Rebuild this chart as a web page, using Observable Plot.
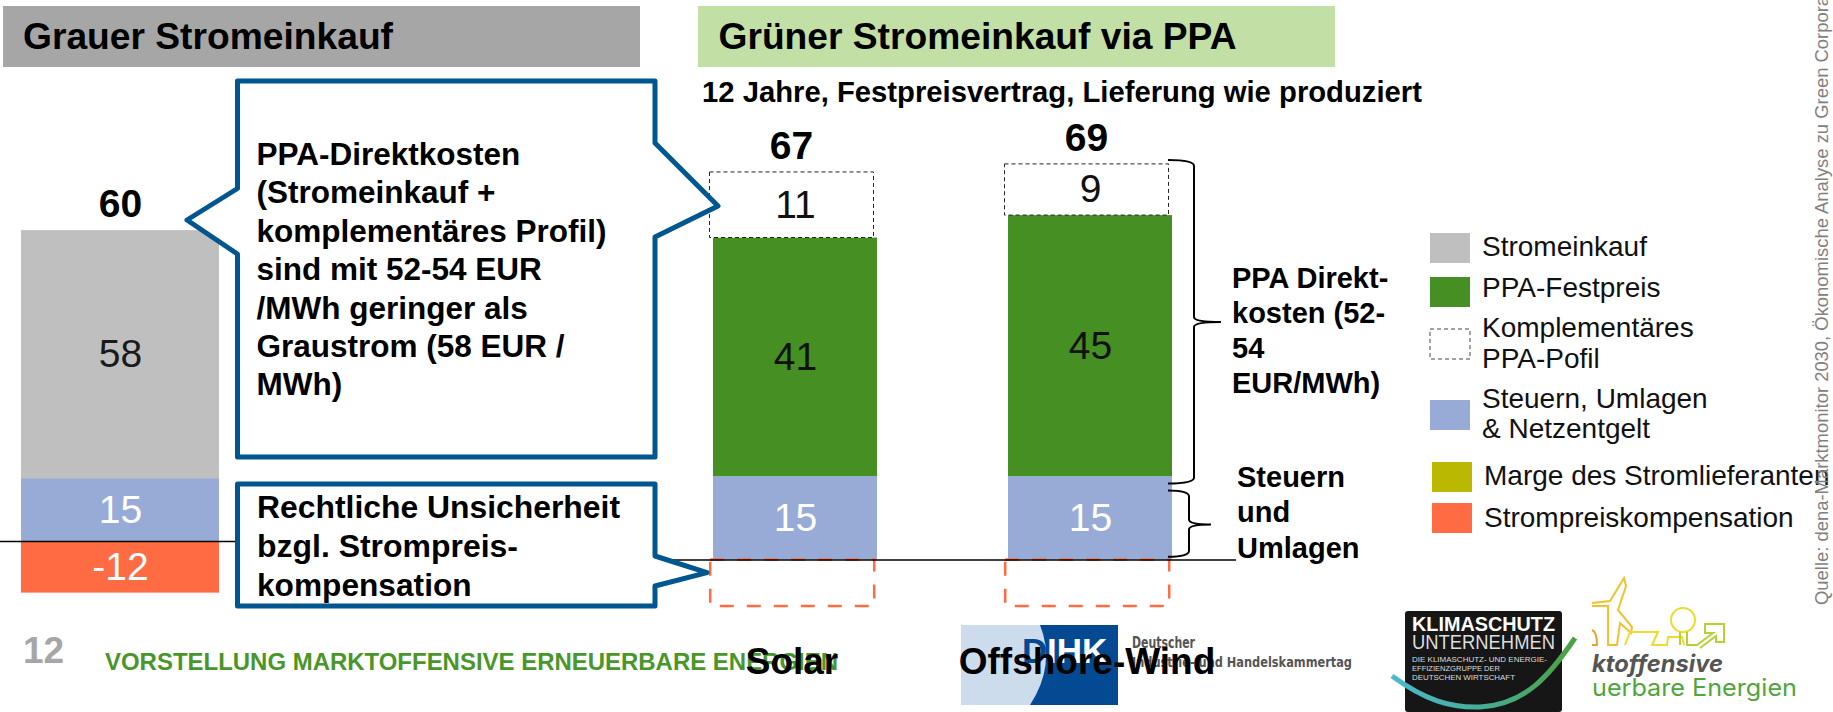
<!DOCTYPE html>
<html><head><meta charset="utf-8">
<script src="https://cdn.jsdelivr.net/npm/d3@7"></script>
<script src="https://cdn.jsdelivr.net/npm/@observablehq/plot@0.6"></script>
<style>
html,body{margin:0;padding:0;background:#fff}
#page{position:relative;width:1833px;height:712px;overflow:hidden;font-family:"Liberation Sans",Arial,sans-serif}
.abs{position:absolute;left:0;top:0}
</style></head><body><div id="page"></div>
<script>
// ---------- data ----------
const greyCategory = ["Grauer Strom"];
const greyValues = [14.7, 58];
const greyLabels = ["15", "58"];
const greyNegative = -12.07;
const greyNegativeLabel = "-12";
const greyTotal = "60";

const ppaCategories = ["Solar", "Offshore-Wind"];
const taxValues = [14.5, 14.5];
const taxLabels = ["15", "15"];
const fixedPrice = [41.5, 45.4];
const fixedLabels = ["41", "45"];
const complementary = [11.4, 8.9];
const complementaryLabels = ["11", "9"];
const compensationGap = [-8.1, -8.1];
const ppaTotals = ["67", "69"];

const legendNames = ["Stromeinkauf", "PPA-Festpreis", "Komplementäres|PPA-Pofil", "Steuern, Umlagen|& Netzentgelt", "Marge des Stromlieferanten", "Strompreiskompensation"];
const legendColors = ["#bfbfbf", "#468f22", "none", "#98abd6", "#bab800", "#ff6b42"];
const C = {grey:"#bfbfbf", green:"#468f22", blue:"#98abd6", orange:"#ff6b42", navy:"#00568f"};

const page = document.getElementById("page");
const font = '"Liberation Sans",Arial,sans-serif';

// ---------- helpers ----------
const NS = "http://www.w3.org/2000/svg";
function layer(){ const s=document.createElementNS(NS,"svg"); s.setAttribute("width",1833); s.setAttribute("height",712); s.setAttribute("class","abs"); s.style.fontFamily=font; page.appendChild(s); return d3.select(s); }
function txt(g,x,y,t,o={}){ const e=g.append("text").attr("x",x).attr("y",y).text(t).attr("font-size",o.size||20).attr("font-weight",o.weight||"normal").attr("fill",o.fill||"#000");
  if(o.anchor)e.attr("text-anchor",o.anchor); if(o.len)e.attr("textLength",o.len).attr("lengthAdjust","spacingAndGlyphs"); if(o.style)e.attr("font-style",o.style); if(o.family)e.attr("font-family",o.family); return e;}

// ---------- background layer ----------
const bg = layer();
bg.append("rect").attr("x",3).attr("y",6).attr("width",637).attr("height",61).attr("fill","#a6a6a6");
bg.append("rect").attr("x",698).attr("y",6).attr("width",637).attr("height",61).attr("fill","#c2e0a6");
txt(bg,23,49,"Grauer Stromeinkauf",{size:37,weight:"bold",len:370});
txt(bg,718.5,49,"Grüner Stromeinkauf via PPA",{size:37,weight:"bold",len:518});
txt(bg,702,102,"12 Jahre, Festpreisvertrag, Lieferung wie produziert",{size:29.5,weight:"bold",len:720});
txt(bg,23,663,"12",{size:37,weight:"bold",fill:"#a6a6a6"});
txt(bg,105,670,"VORSTELLUNG MARKTOFFENSIVE ERNEUERBARE ENERGIEN",{size:23,weight:"bold",fill:"#4a962a",len:733});

// DIHK logo
bg.append("rect").attr("x",961).attr("y",625).attr("width",157).attr("height",80).attr("fill","#cddcec");
bg.append("path").attr("d","M1040 625H1118V705H1030Q1056 665 1040 625Z").attr("fill","#034a92");
txt(bg,1022,663,"D",{size:35,weight:"bold",fill:"#034a92"});
txt(bg,1047,663,"IHK",{size:35,weight:"bold",fill:"#fff"});
txt(bg,1132,648,"Deutscher",{size:15,weight:"bold",fill:"#555",family:"DejaVu Sans",len:63});
txt(bg,1132,667,"Industrie- und Handelskammertag",{size:14,weight:"bold",fill:"#555",len:220,family:"DejaVu Sans"});

// Klimaschutz logo
const defs=bg.append("defs");
const grad=defs.append("linearGradient").attr("id","sw").attr("gradientUnits","userSpaceOnUse").attr("x1",1392).attr("x2",1575).attr("y1",0).attr("y2",0);
grad.append("stop").attr("offset",0).attr("stop-color","#4bb9cf");
grad.append("stop").attr("offset",0.45).attr("stop-color","#45ae9a");
grad.append("stop").attr("offset",1).attr("stop-color","#4aa23e");
bg.append("rect").attr("x",1405).attr("y",611).attr("width",157).attr("height",101).attr("rx",3).attr("fill","#161616");
txt(bg,1412,631,"KLIMASCHUTZ",{size:19.5,weight:"bold",fill:"#fff",len:143});
txt(bg,1412,649,"UNTERNEHMEN",{size:20,fill:"#ddd",len:143});
txt(bg,1412,662,"DIE KLIMASCHUTZ- UND ENERGIE-",{size:7,fill:"#ddd",len:135});
txt(bg,1412,671,"EFFIZIENZGRUPPE DER",{size:7,fill:"#ddd",len:88});
txt(bg,1412,680,"DEUTSCHEN WIRTSCHAFT",{size:7,fill:"#ddd",len:103});
bg.append("path").attr("d","M1392 676C1425 700 1450 708 1480 707C1525 705 1550 675 1575 638").attr("fill","none").attr("stroke","url(#sw)").attr("stroke-width",5);

// Marktoffensive logo
const yel="#eedb2c", lime="#b4d234", org="#f4c12e";
bg.append("path").attr("d","M1592 603L1610 601L1624 578L1626 586L1618 610L1632 627L1631 633L1620 623L1617 645H1608L1608 606H1592").attr("fill","none").attr("stroke",org).attr("stroke-width",2);
bg.append("path").attr("d","M1592 630Q1597 632 1597 645H1592").attr("fill","none").attr("stroke","#f0a030").attr("stroke-width",2);
bg.append("path").attr("d","M1625 645L1630 632H1658L1652 645H1667L1668 637H1682L1684 645").attr("fill","none").attr("stroke",yel).attr("stroke-width",2);
bg.append("circle").attr("cx",1683).attr("cy",620).attr("r",12).attr("fill","none").attr("stroke",yel).attr("stroke-width",2);
bg.append("path").attr("d","M1680 632V645M1687 632V645H1697L1713 633H1705V624H1724V642H1716V636L1700 648").attr("fill","none").attr("stroke",lime).attr("stroke-width",2);
txt(bg,1592,672,"ktoffensive",{size:24,weight:"bold",style:"italic",fill:"#555",family:"Inter",len:131});
txt(bg,1592,696,"uerbare Energien",{size:24,fill:"#4fa63a",family:"Inter",len:205});

// ---------- left chart (grey purchase) ----------
function stacked(cats, series){
  return cats.flatMap((c,i)=>{ let t=0; return series.map(s=>{const y1=t; t+=s.values[i]; return {cat:c,y1,y2:t,fill:s.fill,label:s.labels[i],mid:(y1+t)/2};});});
}
const greyRows = stacked(greyCategory,[
  {values:[greyValues[0]],labels:[greyLabels[0]],fill:C.blue},
  {values:[greyValues[1]],labels:[greyLabels[1]],fill:C.grey}]);
const greyTop = greyValues[0]+greyValues[1];
const numFont = 39;
const left = Plot.plot({
  width:235,height:712,margin:0,
  x:{domain:greyCategory,range:[21,219],padding:0,axis:null},
  y:{domain:[0,50],range:[541,541-50*4.276],axis:null},
  marks:[
    Plot.barY(greyRows,{x:"cat",y1:"y1",y2:"y2",fill:"fill"}),
    Plot.barY(greyCategory,{x:d=>d,y1:()=>0,y2:()=>greyNegative,fill:C.orange}),
    Plot.ruleY([0],{stroke:"#000",strokeWidth:1.5}),
    Plot.text(greyRows.filter(d=>d.fill===C.grey),{x:"cat",y:"mid",text:"label",fontSize:numFont,fill:"#1a1a1a",fontFamily:font}),
    Plot.text(greyRows.filter(d=>d.fill===C.blue),{x:"cat",y:"mid",text:"label",fontSize:numFont,fill:"#fff",fontFamily:font}),
    Plot.text(greyCategory,{x:d=>d,y:()=>greyNegative/2,text:()=>greyNegativeLabel,fontSize:numFont,fill:"#fff",fontFamily:font}),
    Plot.text(greyCategory,{x:d=>d,y:()=>greyTop,text:()=>greyTotal,dy:-26,fontSize:numFont,fontWeight:"bold",fill:"#000",fontFamily:font})
  ]
});
left.style.position="absolute";left.style.left="0";left.style.top="0";left.style.background="transparent";
page.appendChild(left);

// ---------- right chart (PPA) ----------
const ppaRows = stacked(ppaCategories,[
  {values:taxValues,labels:taxLabels,fill:C.blue},
  {values:fixedPrice,labels:fixedLabels,fill:C.green}]);
const compRows = ppaCategories.map((c,i)=>({cat:c,y1:taxValues[i]+fixedPrice[i],y2:taxValues[i]+fixedPrice[i]+complementary[i],label:complementaryLabels[i],total:ppaTotals[i]}));
compRows.forEach(d=>d.mid=(d.y1+d.y2)/2);
const gapRows = ppaCategories.map((c,i)=>({cat:c,y1:0,y2:compensationGap[i]}));
const x0=656, bw=163.5, step=295, firstLeft=713-x0;
const right = Plot.plot({
  width:580,height:712,margin:0,
  x:{domain:ppaCategories,range:[firstLeft,firstLeft+step+bw],paddingInner:(step-bw)/step,paddingOuter:0,axis:null},
  y:{domain:[0,60],range:[559.5,559.5-60*5.75],axis:null},
  marks:[
    Plot.barY(ppaRows,{x:"cat",y1:"y1",y2:"y2",fill:"fill"}),
    Plot.barY(compRows,{x:"cat",y1:"y1",y2:"y2",fill:"#fff",stroke:"#222",strokeWidth:1,strokeDasharray:"4,3",dx:-3.5}),
    Plot.barY(gapRows,{x:"cat",y1:"y1",y2:"y2",fill:"none",stroke:C.orange,strokeWidth:2.5,strokeDasharray:"14,13",dx:-2.8}),
    Plot.ruleY([0],{stroke:"#000",strokeWidth:1.5}),
    Plot.text(ppaRows.filter(d=>d.fill===C.green),{x:"cat",y:"mid",text:"label",fontSize:numFont,fill:"#111",fontFamily:font}),
    Plot.text(ppaRows.filter(d=>d.fill===C.blue),{x:"cat",y:"mid",text:"label",fontSize:numFont,fill:"#fff",fontFamily:font}),
    Plot.text(compRows,{x:"cat",y:"mid",text:"label",fontSize:numFont,fill:"#111",fontFamily:font}),
    Plot.text(compRows,{x:"cat",y:"y2",text:"total",dy:-26,dx:-4,fontSize:numFont,fontWeight:"bold",fill:"#000",fontFamily:font}),
    Plot.text(ppaCategories,{x:d=>d,frameAnchor:"bottom",dy:-39,dx:-3.5,lineAnchor:"bottom",fontSize:37,fontWeight:"bold",fill:"#000",fontFamily:font})
  ]
});
right.style.position="absolute";right.style.left=x0+"px";right.style.top="0";right.style.background="transparent";right.style.overflow="visible";
page.appendChild(right);

// ---------- overlay: callouts, braces, legend, source ----------
const fg = layer();
function callout(d){ fg.append("path").attr("d",d).attr("fill","#fff").attr("stroke",C.navy).attr("stroke-width",5).attr("stroke-linejoin","round"); }
callout("M237.5 81H655V143L718 206L655 237V457H237.5V254L187 220L237.5 188.5Z");
callout("M237.5 484H655V556L707 572.7L655 586V606H237.5Z");
["PPA-Direktkosten","(Stromeinkauf +","komplementäres Profil)","sind mit 52-54 EUR","/MWh geringer als","Graustrom (58 EUR /","MWh)"]
 .forEach((t,i)=>txt(fg,256.5,165+i*38.4,t,{size:31.5,weight:"bold"}));
const noteLines=["Rechtliche Unsicherheit","bzgl. Strompreis-","kompensation"], noteWidths=[363,261,214.6];
noteLines.forEach((t,i)=>txt(fg,257,518.3+i*38.8,t,{size:32,weight:"bold",len:noteWidths[i]}));

function brace(x,y0,y1,ym,xr,xtip){ fg.append("path").attr("fill","none").attr("stroke","#000").attr("stroke-width",2)
  .attr("d",`M${x} ${y0}Q${xr} ${y0} ${xr} ${y0+6}V${ym-5}Q${xr} ${ym} ${xtip} ${ym}Q${xr} ${ym} ${xr} ${ym+5}V${y1-6}Q${xr} ${y1} ${x} ${y1}`); }
brace(1168,160,483.5,322,1194,1221);
brace(1168,490.5,556.8,524.5,1189,1211);
["PPA Direkt-","kosten (52-","54","EUR/MWh)"].forEach((t,i)=>txt(fg,1232,288+i*35,t,{size:29,weight:"bold"}));
["Steuern","und","Umlagen"].forEach((t,i)=>txt(fg,1237,486.7+i*35.5,t,{size:29,weight:"bold"}));

// legend
const legendY=[233,277,329,400,462,503];
const legendBase=[[255.7],[297],[336.7,368],[408,438],[485],[526.7]];
legendNames.forEach((n,i)=>{
  const dx=i>3?2:0, c=legendColors[i];
  const r=fg.append("rect").attr("x",1430+dx).attr("y",legendY[i]).attr("width",40).attr("height",30);
  if(c==="none") r.attr("fill","#fff").attr("stroke","#444").attr("stroke-width",1).attr("stroke-dasharray","4,3");
  else r.attr("fill",c);
  n.split("|").forEach((p,j)=>txt(fg,1482+dx,legendBase[i][j],p,{size:28,fill:"#111"}));
});
// source
fg.append("text").attr("font-size",19).attr("fill","#808080").attr("transform","translate(1828 605) rotate(-90) scale(0.97 1)")
  .text("Quelle: dena-Marktmonitor 2030, Ökonomische Analyse zu Green Corporate PPAs");
</script></body></html>
